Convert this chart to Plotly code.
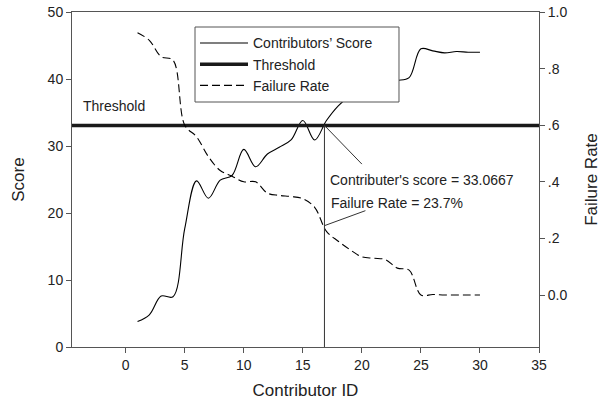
import plotly.graph_objects as go

# ---- data ----
contributor_id = list(range(1, 31))
score = [3.8, 4.8, 7.6, 7.5, 17.7, 24.8, 22.2, 24.9, 25.6, 29.5,
         26.9, 28.8, 29.8, 30.9, 33.8, 30.9, 33.8, 36.0, 37.5, 38.5,
         39.2, 39.6, 39.8, 40.2, 44.5, 44.2, 43.9, 44.1, 44.0, 44.0]
failure_rate = [0.927, 0.90, 0.842, 0.83, 0.60, 0.559, 0.489, 0.44, 0.42, 0.40,
                0.40, 0.36, 0.352, 0.348, 0.34, 0.31, 0.225, 0.19, 0.16, 0.135,
                0.13, 0.125, 0.095, 0.088, 0.0, 0.002, 0.0, 0.0, 0.0, 0.0]
threshold = 33.0667
cross_id = 16.83
cross_rate = 0.245

x_ticks = [0, 5, 10, 15, 20, 25, 30, 35]
y_ticks = [0, 10, 20, 30, 40, 50]
y2_ticks = [0.0, 0.2, 0.4, 0.6, 0.8, 1.0]
y2_ticktext = ["0.0", ".2", ".4", ".6", ".8", "1.0"]

x_range = [-4.55, 35]
y_range = [0, 50]
y2_range = [-0.1837, 1.0]

FONT = "Liberation Sans, Arial, sans-serif"
TXT = "#222222"
AX = "#555555"

fig = go.Figure()
fig.add_trace(go.Scatter(
    x=contributor_id, y=score, mode="lines", name="Contributors\u2019 Score",
    line=dict(color="black", width=1.1, shape="spline", smoothing=1.0)))
fig.add_trace(go.Scatter(
    x=x_range, y=[threshold, threshold], mode="lines", name="Threshold",
    line=dict(color="#1a1a1a", width=3.5)))
fig.add_trace(go.Scatter(
    x=contributor_id, y=failure_rate, mode="lines", name="Failure Rate",
    yaxis="y2",
    line=dict(color="black", width=1.1, shape="spline", smoothing=1.0,
              dash="8px,4px")))

# vertical marker line and pointer lines
fig.add_shape(type="line", xref="x", yref="y", x0=cross_id, x1=cross_id,
              y0=0, y1=threshold, line=dict(color="#333333", width=1))
fig.add_shape(type="line", xref="x", yref="y", x0=cross_id, y0=threshold,
              x1=20.0, y1=27.3, line=dict(color="#333333", width=1))
fig.add_shape(type="line", xref="x", yref="y2", x0=cross_id, y0=cross_rate,
              x1=20.3, y1=0.298, line=dict(color="#333333", width=1))

# legend frame (white box covering the curve)
fig.add_shape(type="rect", xref="paper", yref="paper",
              x0=0.2634, x1=0.7002, y0=0.7313, y1=0.9552, layer="above",
              fillcolor="white", line=dict(color=AX, width=1))

fig.add_annotation(x=-3.75, y=36.0, xref="x", yref="y", text="Threshold",
                   showarrow=False, xanchor="left", yanchor="middle",
                   font=dict(family=FONT, size=14, color=TXT))
fig.add_annotation(x=17.15, y=24.9, xref="x", yref="y",
                   text="Contributer's score = 33.0667",
                   showarrow=False, xanchor="left", yanchor="middle",
                   font=dict(family=FONT, size=14, color=TXT))
fig.add_annotation(x=17.2, y=21.5, xref="x", yref="y",
                   text="Failure Rate = 23.7%",
                   showarrow=False, xanchor="left", yanchor="middle",
                   font=dict(family=FONT, size=14, color=TXT))

axis_common = dict(showline=True, linecolor=AX, linewidth=1, ticks="outside",
                   ticklen=5, tickcolor=AX, showgrid=False, zeroline=False,
                   automargin=False,
                   tickfont=dict(family=FONT, size=14, color=TXT))

fig.update_layout(
    width=607, height=409,
    margin=dict(l=72, r=68, t=12, b=62),
    paper_bgcolor="white", plot_bgcolor="white",
    font=dict(family=FONT, size=14, color=TXT),
    xaxis=dict(range=x_range, tickvals=x_ticks, mirror=True,
               title=dict(text="Contributor ID", font=dict(family=FONT, size=17, color=TXT), standoff=12),
               **axis_common),
    yaxis=dict(range=y_range, tickvals=y_ticks,
               title=dict(text="Score", font=dict(family=FONT, size=17, color=TXT), standoff=18),
               **axis_common),
    yaxis2=dict(range=y2_range, tickvals=y2_ticks, ticktext=y2_ticktext,
                overlaying="y", side="right",
                title=dict(text="Failure Rate", font=dict(family=FONT, size=17, color=TXT), standoff=18),
                **axis_common),
    legend=dict(x=0.2634, y=0.954, xanchor="left", yanchor="top",
                bgcolor="rgba(0,0,0,0)", borderwidth=0,
                font=dict(family=FONT, size=14, color=TXT),
                itemwidth=48, tracegroupgap=0),
    showlegend=True,
)

fig.write_html("out.html", config={"displayModeBar": False},
               post_script="document.body.style.margin='0px';")
